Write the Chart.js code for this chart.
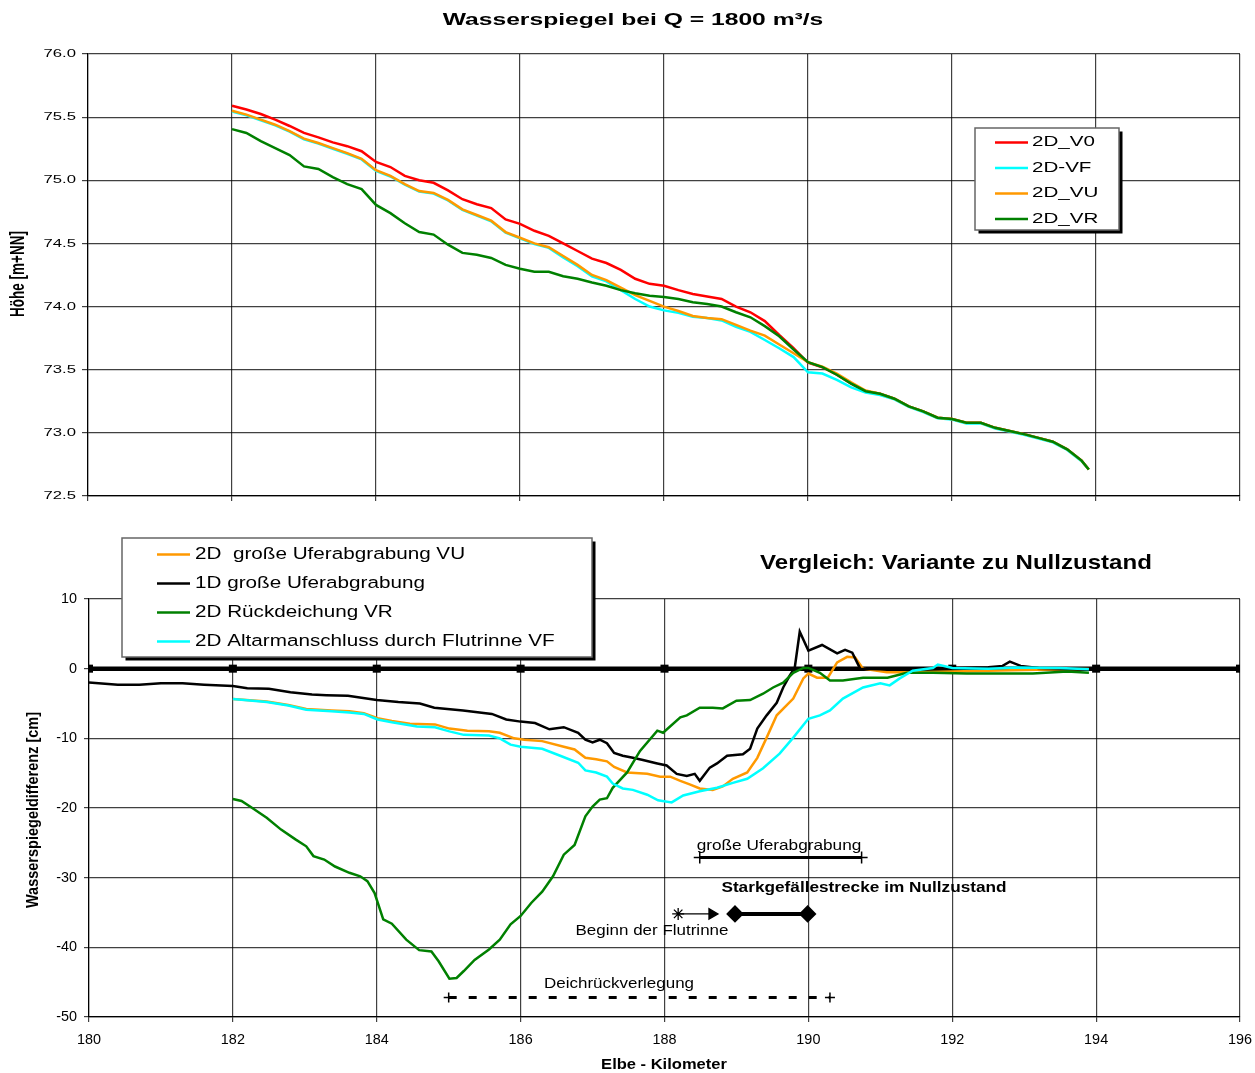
<!DOCTYPE html>
<html>
<head>
<meta charset="utf-8">
<script src="https://cdn.jsdelivr.net/npm/chart.js@4"></script>
<style>
  body { margin: 0; background: #fff; }
  canvas { position: absolute; left: 0; }
</style>
</head>
<body>
<canvas id="levelChart" width="1255" height="515" style="top:0"></canvas>
<canvas id="diffChart" width="1255" height="558" style="top:515px"></canvas>
<script>
// ---- top chart: water levels (m+NN) ----
var topTitle = "Wasserspiegel bei Q = 1800 m³/s";
var topYTitle = "Höhe [m+NN]";
var levelLabels = ["2D_V0", "2D-VF", "2D_VU", "2D_VR"];

var kmTop = [182, 182.2, 182.4, 182.6, 182.8, 183, 183.2, 183.4, 183.6, 183.8,
  184, 184.2, 184.4, 184.6, 184.8, 185, 185.2, 185.4, 185.6, 185.8,
  186, 186.2, 186.4, 186.6, 186.8, 187, 187.2, 187.4, 187.6, 187.8,
  188, 188.2, 188.4, 188.6, 188.8, 189, 189.2, 189.4, 189.6, 189.8,
  190, 190.2, 190.4, 190.6, 190.8, 191, 191.2, 191.4, 191.6, 191.8,
  192, 192.2, 192.4, 192.6, 192.8, 193, 193.2, 193.4, 193.6, 193.8, 193.9];

var levelV0 = [75.59, 75.56, 75.525, 75.48, 75.43, 75.375, 75.34, 75.30, 75.27, 75.23,
  75.145, 75.105, 75.035, 75.00, 74.98, 74.92, 74.85, 74.81, 74.78, 74.69,
  74.655, 74.60, 74.56, 74.50, 74.44, 74.38, 74.345, 74.29, 74.22, 74.18,
  74.165, 74.13, 74.10, 74.08, 74.06, 74.00, 73.955, 73.885, 73.775, 73.67,
  73.555, 73.52, 73.46, 73.39, 73.33, 73.31, 73.27, 73.21, 73.17, 73.12,
  73.11, 73.08, 73.08, 73.04, 73.015, 72.99, 72.96, 72.93, 72.87, 72.78, 72.71];

var levelVF = [75.545, 75.515, 75.475, 75.435, 75.385, 75.325, 75.29, 75.25, 75.21, 75.165,
  75.075, 75.03, 74.965, 74.91, 74.895, 74.84, 74.765, 74.72, 74.675, 74.585,
  74.54, 74.495, 74.465, 74.39, 74.32, 74.24, 74.20, 74.13, 74.06, 74.00,
  73.97, 73.95, 73.92, 73.91, 73.89, 73.84, 73.80, 73.735, 73.67, 73.60,
  73.48, 73.47, 73.42, 73.36, 73.32, 73.30, 73.265, 73.205, 73.165, 73.115,
  73.105, 73.075, 73.075, 73.035, 73.01, 72.985, 72.955, 72.925, 72.865, 72.775, 72.71];

var levelVU = [75.55, 75.52, 75.48, 75.44, 75.39, 75.33, 75.295, 75.255, 75.215, 75.17,
  75.08, 75.035, 74.97, 74.915, 74.90, 74.845, 74.77, 74.725, 74.68, 74.59,
  74.545, 74.50, 74.47, 74.40, 74.33, 74.25, 74.21, 74.15, 74.09, 74.045,
  74.00, 73.965, 73.925, 73.91, 73.90, 73.855, 73.81, 73.77, 73.70, 73.63,
  73.56, 73.525, 73.47, 73.40, 73.335, 73.31, 73.27, 73.21, 73.17, 73.12,
  73.11, 73.08, 73.08, 73.04, 73.015, 72.99, 72.96, 72.93, 72.87, 72.78, 72.71];

var levelVR = [75.405, 75.375, 75.31, 75.255, 75.20, 75.11, 75.09, 75.025, 74.97, 74.93,
  74.805, 74.74, 74.66, 74.59, 74.57, 74.49, 74.425, 74.41, 74.385, 74.33,
  74.30, 74.275, 74.275, 74.24, 74.22, 74.19, 74.165, 74.13, 74.105, 74.085,
  74.075, 74.06, 74.035, 74.02, 74.00, 73.955, 73.915, 73.845, 73.765, 73.66,
  73.56, 73.52, 73.46, 73.39, 73.33, 73.31, 73.27, 73.21, 73.17, 73.12,
  73.11, 73.08, 73.08, 73.04, 73.015, 72.99, 72.96, 72.93, 72.87, 72.78, 72.71];

// ---- bottom chart: differences to the zero state (cm) ----
var diffTitle = "Vergleich: Variante zu Nullzustand";
var diffXTitle = "Elbe - Kilometer";
var diffYTitle = "Wasserspiegeldifferenz [cm]";
var diffLabels = ["2D  große Uferabgrabung VU", "1D große Uferabgrabung",
  "2D Rückdeichung VR", "2D Altarmanschluss durch Flutrinne VF"];

var kmVU = [182.0, 182.47, 182.77, 183.02, 183.37, 183.62, 183.82, 184.01, 184.21, 184.46,
  184.81, 185.01, 185.26, 185.56, 185.71, 185.91, 186.05, 186.3, 186.6, 186.75,
  186.9, 187.05, 187.2, 187.3, 187.48, 187.76, 187.94, 188.08, 188.22, 188.35,
  188.49, 188.67, 188.81, 188.95, 189.15, 189.29, 189.42, 189.56, 189.79, 189.93,
  190.0, 190.12, 190.27, 190.4, 190.54, 190.65, 190.76, 191.09, 191.5, 192.0,
  192.5, 193.0, 193.5, 193.9];
var diffVU = [-4.35, -4.7, -5.2, -5.8, -6.0, -6.1, -6.4, -7.1, -7.5, -7.9,
  -8.0, -8.6, -8.9, -9.0, -9.2, -10.0, -10.2, -10.4, -11.2, -11.6,
  -12.8, -13.0, -13.3, -14.1, -14.9, -15.1, -15.5, -15.5, -16.1, -16.6,
  -17.2, -17.4, -16.9, -15.8, -14.9, -12.8, -9.9, -6.7, -4.3, -1.4,
  -0.7, -1.3, -1.3, 0.9, 1.7, 1.6, 0.0, -0.5, -0.5, -0.4,
  -0.3, -0.2, -0.1, 0.0];

var km1D = [180, 180.4, 180.7, 181.0, 181.3, 181.6, 182.0, 182.2, 182.5, 182.8,
  183.1, 183.3, 183.6, 184.0, 184.3, 184.6, 184.8, 185.2, 185.6, 185.8,
  186.0, 186.2, 186.4, 186.6, 186.8, 186.9, 187.0, 187.1, 187.2, 187.3,
  187.42, 187.56, 187.7, 187.9, 188.03, 188.17, 188.31, 188.42, 188.49, 188.63,
  188.73, 188.87, 189.09, 189.19, 189.29, 189.42, 189.56, 189.65, 189.74, 189.81,
  189.88, 190.0, 190.19, 190.4, 190.51, 190.61, 190.72, 191.0, 191.5, 192.0,
  192.5, 192.7, 192.8, 192.95, 193.2, 193.6, 194.0];
var diff1D = [-2.0, -2.3, -2.3, -2.1, -2.1, -2.3, -2.5, -2.8, -2.9, -3.4,
  -3.7, -3.8, -3.9, -4.5, -4.8, -5.0, -5.6, -6.0, -6.5, -7.3,
  -7.6, -7.8, -8.7, -8.4, -9.2, -10.2, -10.6, -10.2, -10.7, -12.1,
  -12.5, -12.8, -13.1, -13.6, -13.9, -15.1, -15.4, -15.1, -16.1, -14.2,
  -13.6, -12.5, -12.3, -11.5, -8.6, -6.7, -4.9, -2.7, -1.0, 0.1,
  5.3, 2.6, 3.4, 2.2, 2.7, 2.3, 0.0, -0.1, 0.0, 0.1,
  0.2, 0.4, 1.0, 0.4, 0.1, 0.0, 0.0];

var kmVR = [182.0, 182.12, 182.27, 182.47, 182.67, 182.87, 183.02, 183.12, 183.27, 183.42,
  183.62, 183.77, 183.87, 183.97, 184.09, 184.21, 184.41, 184.59, 184.76, 184.86,
  185.01, 185.11, 185.21, 185.36, 185.56, 185.71, 185.86, 186.0, 186.15, 186.3,
  186.45, 186.6, 186.75, 186.9, 187.0, 187.1, 187.2, 187.28, 187.48, 187.66,
  187.9, 187.98, 188.22, 188.31, 188.49, 188.67, 188.81, 189.0, 189.19, 189.37,
  189.51, 189.65, 189.79, 189.93, 190.0, 190.16, 190.3, 190.48, 190.76, 191.1,
  191.37, 191.73, 192.2, 192.66, 193.12, 193.6, 193.9];
var diffVR = [-18.7, -19.0, -20.0, -21.4, -23.1, -24.5, -25.5, -26.9, -27.4, -28.4,
  -29.3, -29.8, -30.5, -32.2, -36.0, -36.6, -38.9, -40.4, -40.6, -42.0,
  -44.5, -44.4, -43.4, -41.8, -40.3, -38.9, -36.7, -35.5, -33.6, -32.0,
  -29.8, -26.7, -25.3, -21.2, -19.8, -18.8, -18.6, -17.1, -14.9, -11.8,
  -8.9, -9.2, -7.0, -6.7, -5.6, -5.6, -5.7, -4.6, -4.5, -3.6,
  -2.7, -2.0, -0.6, 0.1, 0.1, -0.6, -1.7, -1.7, -1.3, -1.3,
  -0.6, -0.6, -0.7, -0.7, -0.7, -0.4, -0.6];

var kmVF = [182.0, 182.47, 182.77, 183.02, 183.37, 183.62, 183.82, 184.01, 184.21, 184.56,
  184.81, 185.01, 185.21, 185.56, 185.71, 185.86, 186.0, 186.3, 186.55, 186.8,
  186.9, 187.05, 187.2, 187.28, 187.42, 187.56, 187.76, 187.91, 188.1, 188.26,
  188.49, 188.73, 188.95, 189.15, 189.37, 189.6, 189.79, 190.0, 190.16, 190.3,
  190.48, 190.76, 191.0, 191.13, 191.27, 191.45, 191.73, 191.8, 192.0, 192.5,
  192.9, 193.5, 193.9];
var diffVF = [-4.35, -4.8, -5.3, -5.9, -6.1, -6.3, -6.5, -7.3, -7.7, -8.3,
  -8.4, -9.0, -9.5, -9.6, -10.0, -10.9, -11.2, -11.5, -12.5, -13.5,
  -14.6, -14.9, -15.5, -16.5, -17.2, -17.4, -18.1, -18.9, -19.2, -18.2,
  -17.6, -17.1, -16.4, -15.8, -14.3, -12.2, -9.9, -7.2, -6.7, -6.0,
  -4.3, -2.7, -2.1, -2.4, -1.4, -0.3, 0.1, 0.6, 0.1, 0.0,
  0.15, 0.1, -0.1];

// zero line with its km markers
var kmZero = [180, 182, 184, 186, 188, 190, 192, 194, 196];

// reach markers drawn in the lower chart (km, cm)
var uferKm = [188.49, 190.74], uferCm = [-27.1, -27.1];
var flutKm = [188.19, 188.66], flutCm = [-35.2, -35.2];
var starkKm = [188.98, 189.99], starkCm = [-35.2, -35.2];
var deichKm = [185.0, 190.3], deichCm = [-47.2, -47.2];
var noteTexts = ["große Uferabgrabung", "Starkgefällestrecke im Nullzustand",
  "Beginn der Flutrinne", "Deichrückverlegung"];

// ---- helpers ----
var FONT = "'Liberation Sans', Arial, sans-serif";
var SX_TOP = 1.45; // the top picture is stretched wide
var SX_BOT = 1.18;

function pts(xs, ys) {
  return xs.map(function (x, i) { return { x: x, y: ys[i] }; });
}

function drawText(ctx, str, x, y, font, sx, align, rotate) {
  ctx.save();
  ctx.translate(x, y);
  ctx.scale(sx, 1);
  if (rotate) ctx.rotate(-Math.PI / 2);
  ctx.font = font;
  ctx.textAlign = align || "center";
  ctx.textBaseline = "middle";
  ctx.fillStyle = "#000";
  ctx.fillText(str, 0, 0);
  ctx.restore();
}

function drawLegend(ctx, box, items) {
  ctx.save();
  ctx.fillStyle = "#000";
  ctx.fillRect(box.x + 3.5, box.y + 3.5, box.w, box.h);
  ctx.fillStyle = "#fff";
  ctx.fillRect(box.x, box.y, box.w, box.h);
  ctx.strokeStyle = "#666";
  ctx.lineWidth = 1.5;
  ctx.strokeRect(box.x, box.y, box.w, box.h);
  items.forEach(function (it, i) {
    var y = box.y + box.first + i * box.step;
    ctx.strokeStyle = it.color;
    ctx.lineWidth = 2.5;
    ctx.beginPath();
    ctx.moveTo(box.x + box.line0, y);
    ctx.lineTo(box.x + box.line1, y);
    ctx.stroke();
    drawText(ctx, it.label, box.x + box.textX, y, box.font, box.sx, "left");
  });
  ctx.restore();
}

var gridColor = "rgba(0,0,0,0.75)";

// ---- top chart ----
var topTextPlugin = {
  id: "topText",
  afterDraw: function (chart) {
    var ctx = chart.ctx;
    var yScale = chart.scales.y;
    drawText(ctx, topTitle, 633, 20, "bold 17px " + FONT, SX_TOP, "center");
    drawText(ctx, topYTitle, 19, 274, "bold 13.5px " + FONT, SX_TOP, "center", true);
    yScale.ticks.forEach(function (t) {
      drawText(ctx, t.value.toFixed(1), 76, yScale.getPixelForValue(t.value),
        "11.5px " + FONT, SX_TOP, "right");
    });
    var items = chart.data.datasets.map(function (d) {
      return { label: d.label, color: d.borderColor };
    });
    drawLegend(ctx, { x: 975, y: 128, w: 144, h: 102, first: 14.5, step: 25.5,
      line0: 20, line1: 53, textX: 57, font: "14.2px " + FONT, sx: SX_TOP }, items);
  }
};

var topColors = ["#ff0000", "#00ffff", "#ff9900", "#008000"];
var topSeries = [levelV0, levelVF, levelVU, levelVR];

new Chart(document.getElementById("levelChart"), {
  type: "line",
  data: {
    datasets: topSeries.map(function (vals, i) {
      return {
        label: levelLabels[i],
        data: pts(kmTop, vals),
        borderColor: topColors[i],
        borderWidth: 2.5,
        pointRadius: 0,
        tension: 0,
        order: 4 - i
      };
    })
  },
  options: {
    responsive: false,
    animation: false,
    devicePixelRatio: 1,
    layout: { padding: { left: 0, top: 54, right: 15, bottom: 0 } },
    plugins: { legend: { display: false }, tooltip: { enabled: false } },
    scales: {
      x: {
        type: "linear", min: 180, max: 196,
        ticks: { stepSize: 2, display: false },
        grid: { color: gridColor, lineWidth: 1.2, tickLength: 5 },
        border: { color: "#000", width: 1.2 },
        afterFit: function (s) { s.height = 19; }
      },
      y: {
        min: 72.5, max: 76,
        ticks: { stepSize: 0.5, display: false },
        grid: { color: gridColor, lineWidth: 1.2, tickLength: 6 },
        border: { color: "#000", width: 1.2 },
        afterFit: function (s) { s.width = 88; }
      }
    }
  },
  plugins: [topTextPlugin]
});

// ---- bottom chart ----
var diffTextPlugin = {
  id: "diffText",
  afterDraw: function (chart) {
    var ctx = chart.ctx;
    var xScale = chart.scales.x;
    var yScale = chart.scales.y;
    var tickFont = "14.4px " + FONT;
    yScale.ticks.forEach(function (t) {
      drawText(ctx, String(t.value), 77, yScale.getPixelForValue(t.value), tickFont, 1, "right");
    });
    xScale.ticks.forEach(function (t) {
      drawText(ctx, String(t.value), xScale.getPixelForValue(t.value), 525, tickFont, 1, "center");
    });
    drawText(ctx, diffXTitle, 664, 550, "bold 14px " + FONT, SX_BOT, "center");
    drawText(ctx, diffYTitle, 33, 295, "bold 14.5px " + FONT, SX_BOT, "center", true);
    drawText(ctx, diffTitle, 956, 48, "bold 20.4px " + FONT, SX_BOT, "center");

    drawText(ctx, noteTexts[0], 779, 331, "14.6px " + FONT, SX_BOT, "center");
    drawText(ctx, noteTexts[1], 864, 373, "bold 14.6px " + FONT, SX_BOT, "center");
    drawText(ctx, noteTexts[2], 652, 416, "14.4px " + FONT, SX_BOT, "center");
    drawText(ctx, noteTexts[3], 619, 469, "14.4px " + FONT, SX_BOT, "center");

    var items = chart.data.datasets.slice(0, 4).map(function (d) {
      return { label: d.label, color: d.borderColor };
    });
    drawLegend(ctx, { x: 122, y: 23, w: 470, h: 119, first: 16.5, step: 29,
      line0: 35, line1: 68, textX: 73, font: "16.3px " + FONT, sx: 1.27 }, items);
  }
};

var diffColors = ["#ff9900", "#000000", "#008000", "#00ffff"];
var diffSeries = [pts(kmVU, diffVU), pts(km1D, diff1D), pts(kmVR, diffVR), pts(kmVF, diffVF)];
var diffOrder = [4, 3, 2, 1];

var diffDatasets = diffSeries.map(function (data, i) {
  return {
    label: diffLabels[i],
    data: data,
    borderColor: diffColors[i],
    borderWidth: 2.5,
    pointRadius: 0,
    tension: 0,
    order: diffOrder[i]
  };
});

diffDatasets.push({
  label: "_zero",
  data: kmZero.map(function (k) { return { x: k, y: 0 }; }),
  borderColor: "#000",
  borderWidth: 4.5,
  pointStyle: "rect",
  pointRadius: 2.5,
  pointBackgroundColor: "#000",
  pointBorderColor: "#000",
  order: 10
});
diffDatasets.push({
  label: "_ufer",
  data: pts(uferKm, uferCm),
  borderColor: "#000",
  borderWidth: 3,
  pointStyle: "cross",
  pointRadius: 6,
  pointBorderWidth: 1.5,
  pointBorderColor: "#000",
  order: 0
});
diffDatasets.push({
  label: "_flut",
  data: pts(flutKm, flutCm),
  borderColor: "#000",
  borderWidth: 1.2,
  pointStyle: ["star", "triangle"],
  pointRotation: [0, 90],
  pointRadius: [6, 6],
  pointBorderWidth: 1.3,
  pointBorderColor: "#000",
  pointBackgroundColor: "#000",
  order: 0
});
diffDatasets.push({
  label: "_stark",
  data: pts(starkKm, starkCm),
  borderColor: "#000",
  borderWidth: 4,
  pointStyle: "rectRot",
  pointRadius: 6,
  pointBorderColor: "#000",
  pointBackgroundColor: "#000",
  order: 0
});
diffDatasets.push({
  label: "_deich",
  data: pts(deichKm, deichCm),
  borderColor: "#000",
  borderWidth: 3,
  borderDash: [8, 12],
  pointStyle: "cross",
  pointRadius: 5,
  pointBorderWidth: 1.5,
  pointBorderColor: "#000",
  order: 0
});

new Chart(document.getElementById("diffChart"), {
  type: "line",
  data: { datasets: diffDatasets },
  options: {
    responsive: false,
    animation: false,
    devicePixelRatio: 1,
    layout: { padding: { left: 0, top: 84, right: 15, bottom: 0 } },
    plugins: { legend: { display: false }, tooltip: { enabled: false } },
    scales: {
      x: {
        type: "linear", min: 180, max: 196,
        ticks: { stepSize: 2, display: false },
        grid: { color: gridColor, lineWidth: 1.2, tickLength: 5 },
        border: { color: "#000", width: 1.2 },
        afterFit: function (s) { s.height = 56; }
      },
      y: {
        min: -50, max: 10,
        ticks: { stepSize: 10, display: false },
        grid: { color: gridColor, lineWidth: 1.2, tickLength: 5 },
        border: { color: "#000", width: 1.2 },
        afterFit: function (s) { s.width = 89; }
      }
    }
  },
  plugins: [diffTextPlugin]
});
</script>
</body>
</html>
